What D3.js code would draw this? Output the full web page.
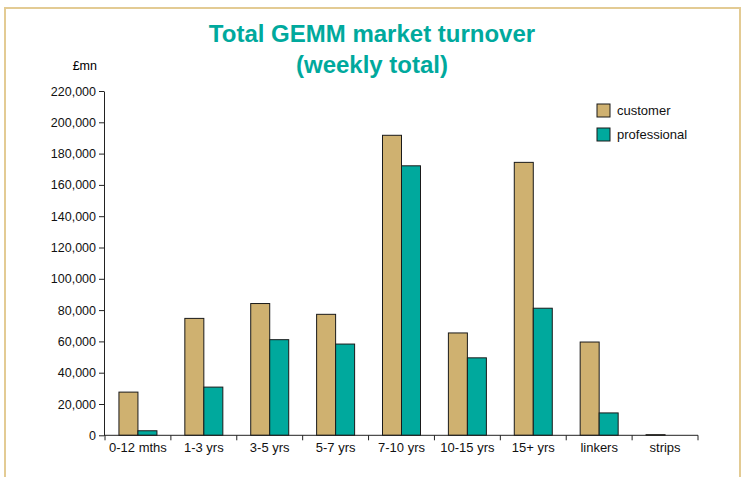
<!DOCTYPE html>
<meta charset="utf-8">
<head>
    <style>
        body { margin: 0; background: #fff; }
        .axis text { font-family: Arial, "Liberation Sans", sans-serif; font-size: 12.5px; fill: #111; }
        .axis path, .axis line { stroke: #222; }
        .xaxis text { font-size: 13px; }
        .title { font-family: Arial, "Liberation Sans", sans-serif; font-weight: bold; fill: #00a99d; }
        .legend text { font-family: Arial, "Liberation Sans", sans-serif; font-size: 13px; fill: #111; }
    </style>
    <script src="https://d3js.org/d3.v7.min.js"></script>
</head>
<body>
<svg id="chart"></svg>
<script>
    var categories = ["0-12 mths", "1-3 yrs", "3-5 yrs", "5-7 yrs", "7-10 yrs", "10-15 yrs", "15+ yrs", "linkers", "strips"];
    var customer = [27600, 74700, 84200, 77300, 191700, 65400, 174400, 59600, 400];
    var professional = [2900, 30800, 61100, 58300, 172200, 49500, 81200, 14300, 0];
    var seriesNames = ["customer", "professional"];
    var seriesColors = ["#cfb170", "#00a99d"];
    var yTicks = [0, 20000, 40000, 60000, 80000, 100000, 120000, 140000, 160000, 180000, 200000, 220000];

    var width = 746, height = 477;
    var svg = d3.select("#chart").attr("width", width).attr("height", height);

    // frame
    svg.append("path")
        .attr("d", "M5,480 L5,8 L740,8 L740,480")
        .attr("fill", "none")
        .attr("stroke", "#e3cb94")
        .attr("stroke-width", 2);

    var x0 = d3.scaleBand().domain(categories).range([105, 698]);
    var x1 = d3.scaleBand().domain(seriesNames)
        .range([x0.bandwidth() / 2 - 19, x0.bandwidth() / 2 + 19]);
    var y = d3.scaleLinear().domain([0, 220000]).range([435.3, 91]);

    // title
    svg.append("text").attr("class", "title")
        .attr("x", 372).attr("y", 42).attr("text-anchor", "middle")
        .style("font-size", "24px")
        .text("Total GEMM market turnover");
    svg.append("text").attr("class", "title")
        .attr("x", 372).attr("y", 73).attr("text-anchor", "middle")
        .style("font-size", "24px")
        .text("(weekly total)");

    svg.append("text")
        .attr("x", 97).attr("y", 70).attr("text-anchor", "end")
        .style("font-family", "Arial, sans-serif").style("font-size", "12.5px")
        .text("£mn");

    // bars
    var rows = categories.map(function(c, i) {
        return { cat: c, values: [customer[i], professional[i]] };
    });
    var g = svg.append("g");
    g.selectAll("g.cat")
        .data(rows)
        .enter().append("g")
        .attr("transform", function(d) { return "translate(" + x0(d.cat) + ",0)"; })
        .selectAll("rect")
        .data(function(d) { return d.values.map(function(v, j) { return { s: seriesNames[j], v: v, j: j }; }); })
        .enter().append("rect")
        .filter(function(d) { return d.v > 0; })
        .attr("x", function(d) { return x1(d.s); })
        .attr("width", x1.bandwidth())
        .attr("y", function(d) { return y(d.v); })
        .attr("height", function(d) { return y(0) - y(d.v); })
        .attr("fill", function(d) { return seriesColors[d.j]; })
        .attr("stroke", "#1a1a1a")
        .attr("stroke-width", 1);

    // axes
    var yAxis = d3.axisLeft(y).tickValues(yTicks).tickFormat(d3.format(",")).tickSizeInner(5).tickSizeOuter(0).tickPadding(3);
    svg.append("g").attr("class", "axis")
        .attr("transform", "translate(104,0)")
        .call(yAxis);

    var xAxis = d3.axisBottom(x0).tickSize(0).tickPadding(7);
    var xg = svg.append("g").attr("class", "axis xaxis")
        .attr("transform", "translate(0,435.3)")
        .call(xAxis);
    xg.select(".domain").attr("d", "M104,0H698");
    xg.selectAll(".sep")
        .data(categories.concat(["end"]))
        .enter().append("line")
        .attr("x1", function(d, i) { return 105 + i * x0.step(); })
        .attr("x2", function(d, i) { return 105 + i * x0.step(); })
        .attr("y1", 0).attr("y2", 5)
        .attr("stroke", "#222");

    // legend
    var lg = svg.append("g").attr("class", "legend");
    seriesNames.forEach(function(n, i) {
        lg.append("rect")
            .attr("x", 597).attr("y", 104 + i * 24)
            .attr("width", 13).attr("height", 13)
            .attr("fill", seriesColors[i]).attr("stroke", "#1a1a1a");
        lg.append("text")
            .attr("x", 617).attr("y", 115 + i * 24)
            .text(n);
    });
</script>
</body>
